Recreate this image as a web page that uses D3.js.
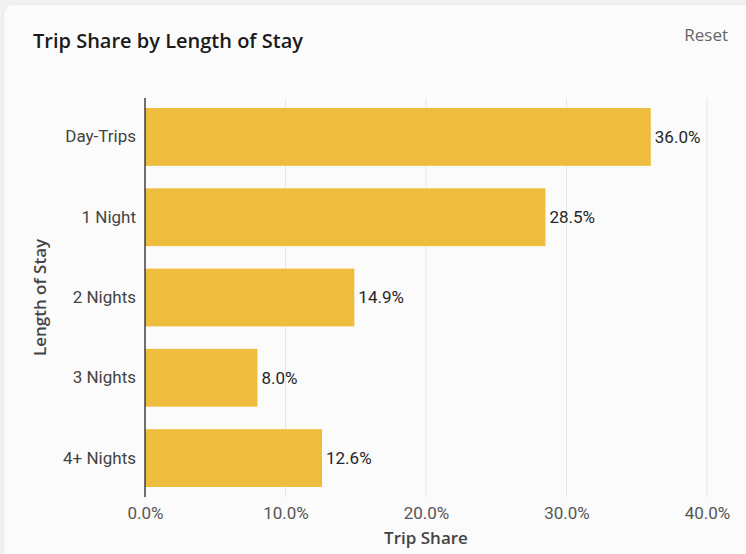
<!DOCTYPE html>
<html><head><meta charset="utf-8">
<script src="https://cdn.jsdelivr.net/npm/d3@7"></script>
<style>
html,body{margin:0;padding:0;background:#f1f1f1;width:746px;height:554px;overflow:hidden;}
#card{position:absolute;left:4px;top:5px;width:760px;height:560px;background:#fbfbfb;border-radius:9px;box-shadow:0 0 3px rgba(0,0,0,0.06);}
svg{position:absolute;left:0;top:0;}
</style></head>
<body>
<div id="card"></div>
<svg id="chart" width="746" height="554"></svg>
<script>
const categories = ["Day-Trips","1 Night","2 Nights","3 Nights","4+ Nights"];
const shares = [36.0, 28.5, 14.9, 8.0, 12.6];
const xTicks = [0, 10, 20, 30, 40];
const title = "Trip Share by Length of Stay";
const xTitle = "Trip Share";
const yTitle = "Length of Stay";

const svg = d3.select("#chart");
const m = {left:145, right:39, top:98, bottom:57};
const W = 746, H = 554;
const x = d3.scaleLinear().domain([0,40]).range([m.left, W - m.right]);
const y = d3.scaleBand().domain(categories).range([m.top, H - m.bottom]).paddingInner(0.28).paddingOuter(0.125);

// gridlines
svg.append("g").selectAll("line").data(xTicks.filter(t=>t>0)).join("line")
  .attr("x1", d=>x(d)).attr("x2", d=>x(d)).attr("y1", m.top).attr("y2", H - m.bottom)
  .attr("stroke", "#e6e6e6").attr("stroke-width", 1);

// bars
svg.append("g").selectAll("rect").data(categories).join("rect")
  .attr("x", x(0)).attr("y", d=>y(d)).attr("height", y.bandwidth())
  .attr("width", (d,i)=>x(shares[i]) - x(0)).attr("fill", "#EFBD3E");

// value labels
svg.append("g").selectAll("text").data(categories).join("text")
  .attr("x", (d,i)=>x(shares[i]) + 4).attr("y", d=>y(d) + y.bandwidth()/2)
  .attr("dy", "0.35em").attr("font-family", "Roboto, sans-serif").attr("font-size", 17)
  .attr("fill", "#262626").text((d,i)=>shares[i].toFixed(1) + "%");

// x axis
const xAxis = svg.append("g").attr("transform", `translate(0,${H - m.bottom})`)
  .call(d3.axisBottom(x).tickValues(xTicks).tickSize(0).tickPadding(10).tickFormat(d=>d3.format(".1f")(d)+"%"));
xAxis.select(".domain").remove();
xAxis.selectAll("text").attr("font-family", "Roboto, sans-serif").attr("font-size", 17).attr("fill", "#555");

// y axis
const yAxis = svg.append("g").attr("transform", `translate(${m.left},0)`)
  .call(d3.axisLeft(y).tickSize(0).tickPadding(9));
yAxis.select(".domain").attr("stroke", "#222").attr("stroke-width", 1.3)
  .attr("d", `M0,${m.top}V${H - m.bottom}`);
yAxis.selectAll("text").attr("font-family", "Roboto, sans-serif").attr("font-size", 17).attr("fill", "#444");

// titles
svg.append("text").attr("x", 33).attr("y", 48).attr("font-family", "'Open Sans', sans-serif")
  .attr("font-weight", 600).attr("font-size", 20).attr("fill", "#1a1a1a").text(title);
svg.append("text").attr("x", 728).attr("y", 41).attr("text-anchor", "end").attr("font-family", "'Open Sans', sans-serif")
  .attr("font-size", 17).attr("fill", "#666").text("Reset");
svg.append("text").attr("x", x(20)).attr("y", 544).attr("text-anchor", "middle").attr("font-family", "'Open Sans', sans-serif")
  .attr("font-weight", 600).attr("font-size", 17).attr("fill", "#444").text(xTitle);
svg.append("text").attr("transform", `translate(46,${(m.top + H - m.bottom)/2}) rotate(-90)`).attr("text-anchor", "middle")
  .attr("font-family", "'Open Sans', sans-serif").attr("font-weight", 600).attr("font-size", 17).attr("fill", "#444").text(yTitle);
</script>
</body></html>
